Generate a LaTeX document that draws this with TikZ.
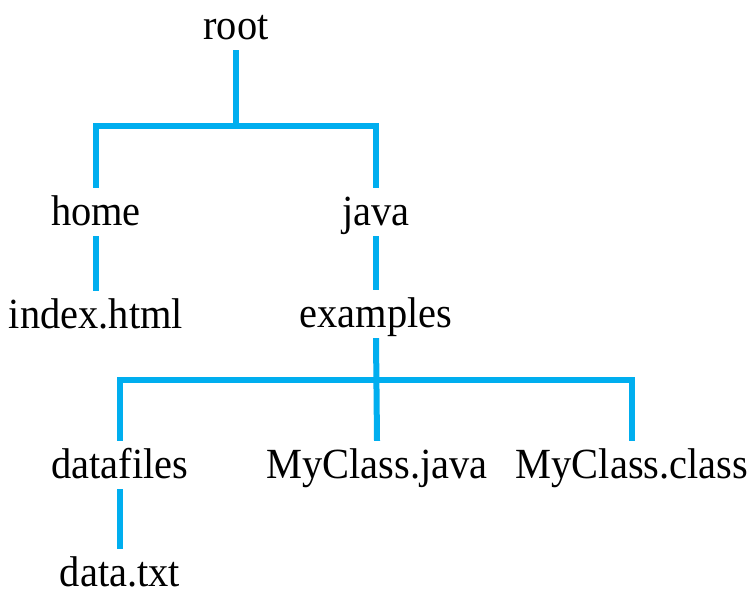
\documentclass[tikz,border=0pt]{standalone}
\usepackage{fontspec}
\setmainfont[FakeStretch=0.94]{Liberation Serif}
\definecolor{linkblue}{RGB}{0,174,239}

\begin{document}
\begin{tikzpicture}[x=1pt, y=-1pt,
  entry/.style = {anchor=base, inner sep=1pt, text height=36pt, text depth=10pt,
    font=\fontsize{43}{50}\selectfont},
  branch/.style = {draw=linkblue, line width=6pt}]
  \useasboundingbox (0,0) rectangle (749,600);

  \node[entry] (root) at (236,39) {root};
  \node[entry] (home) at (96,225) {home};
  \node[entry] (java) at (376,225) {java};
  \node[entry] (index) at (96,328) {index.html};
  \node[entry] (examples) at (376,327) {examples};
  \node[entry] (datafiles) at (120,478) {datafiles};
  \node[entry] (myjava) at (377,478) {MyClass.java};
  \node[entry] (myclass) at (632,478) {MyClass.class};
  \node[entry] (datatxt) at (120,586) {data.txt};

  \coordinate (split1) at (236,125.5);
  \coordinate (split2) at (376,379.5);

  \draw[branch] (root.south) -- (split1);
  \draw[branch] (home.north) -- (home.north |- split1) -- (java.north |- split1) -- (java.north);
  \draw[branch] (home.south) -- (index.north);
  \draw[branch] (java.south) -- (examples.north);
  \draw[branch] (examples.south) -- (myjava.north);
  \draw[branch] (datafiles.north) -- (datafiles.north |- split2) -- (myclass.north |- split2) -- (myclass.north);
  \draw[branch] (datafiles.south) -- (datatxt.north);
\end{tikzpicture}
\end{document}
